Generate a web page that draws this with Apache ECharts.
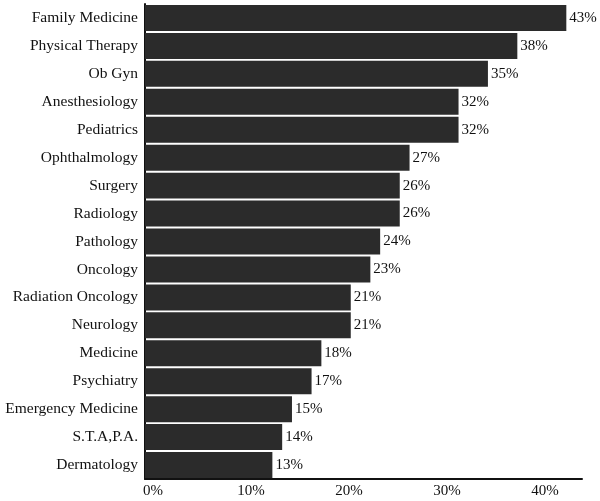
<!DOCTYPE html>
<html>
<head>
<meta charset="utf-8">
<style>
  html, body { margin: 0; padding: 0; background: #fff; }
  #chart { width: 600px; height: 501px; }
</style>
<script src="https://cdn.jsdelivr.net/npm/echarts@6/dist/echarts.min.js"></script>
</head>
<body>
<div id="chart"></div>
<script>
// Specialties, listed top to bottom
const specialties = [
  'Family Medicine', 'Physical Therapy', 'Ob Gyn', 'Anesthesiology', 'Pediatrics',
  'Ophthalmology', 'Surgery', 'Radiology', 'Pathology', 'Oncology',
  'Radiation Oncology', 'Neurology', 'Medicine', 'Psychiatry',
  'Emergency Medicine', 'S.T.A,P.A.', 'Dermatology'
];
// Percentage for each specialty
const percents = [43, 38, 35, 32, 32, 27, 26, 26, 24, 23, 21, 21, 18, 17, 15, 14, 13];
// Percent ticks on the value axis
const tickValues = [0, 10, 20, 30, 40];

const serif = '"Liberation Serif", "DejaVu Serif", serif';
const chart = echarts.init(document.getElementById('chart'));

chart.setOption({
  animation: false,
  grid: { left: 145, right: 18, top: 4, bottom: 22 },
  xAxis: {
    type: 'value',
    min: 0,
    max: 44.6,
    interval: 10,
    splitLine: { show: false },
    axisTick: { show: false },
    axisLine: { show: true, lineStyle: { color: '#111', width: 2 } },
    axisLabel: {
      showMaxLabel: false,
      margin: 5,
      padding: [0, 0, 0, 16],
      color: '#111',
      fontFamily: serif,
      fontSize: 15,
      formatter: v => tickValues.includes(v) ? v + '%' : ''
    }
  },
  yAxis: {
    type: 'category',
    inverse: true,
    data: specialties,
    axisTick: { show: false },
    axisLine: { show: true, lineStyle: { color: '#111', width: 2 } },
    axisLabel: {
      margin: 7,
      color: '#111',
      fontFamily: serif,
      fontSize: 15.5
    }
  },
  series: [{
    type: 'bar',
    data: percents,
    barCategoryGap: '7%',
    itemStyle: { color: '#2b2b2b' },
    label: {
      show: true,
      position: 'right',
      distance: 3,
      color: '#111',
      fontFamily: serif,
      fontSize: 15,
      formatter: p => p.value + '%'
    }
  }]
});
</script>
</body>
</html>
